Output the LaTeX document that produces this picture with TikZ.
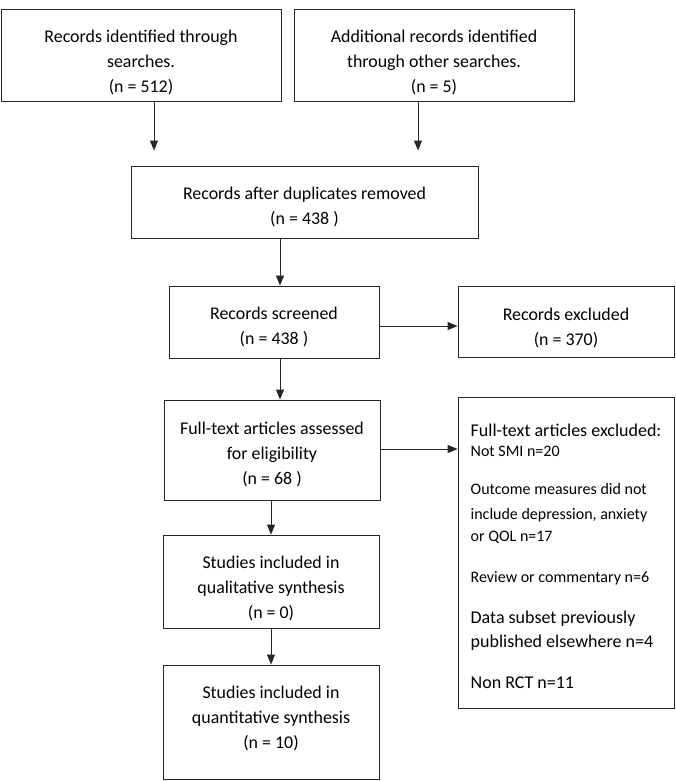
\documentclass[tikz,border=0pt]{standalone}
\usepackage{fontspec}
\setmainfont{Carlito}
\usetikzlibrary{positioning}
\usetikzlibrary{arrows.meta}
\tikzstyle{record} = [rectangle, minimum width=216pt, draw=black!85, line width=0.9pt, text centered, align=center, font=\fontsize{17.9}{25}\selectfont]
\tikzstyle{reasons} = [rectangle, minimum width=216pt, minimum height=311pt, draw=black!85, line width=0.9pt, align=left, font=\fontsize{18}{20}\selectfont]
\tikzstyle{arrow} = [line width=0.9pt, draw=black!85, -{Triangle[length=10pt,width=8pt]}]
\newcommand{\smalltxt}{\fontsize{16}{20}\selectfont}
\newcommand{\bigtxt}{\fontsize{18}{20}\selectfont}
\newcommand{\padtop}[1]{\rule{0pt}{#1}}
\newcommand{\padbot}[1]{\rule[-#1]{0pt}{#1}}

\begin{document}
\begin{tikzpicture}[node distance=120pt, x=1pt, y=-1pt]
        \useasboundingbox (0,0) rectangle (675,781);
        \node (search) [record, minimum width=280pt, minimum height=92pt] at (141,55) {\padtop{27pt}Records identified through\\ searches.\\ (n = 512)};
        \node (other) [record, minimum width=280pt, minimum height=92pt, right of=search, xshift=173pt] {\padtop{27pt}Additional records identified\\ through other searches.\\ (n = 5)};
        \node (dedup) [record, minimum width=347pt, minimum height=72pt, below of=search, xshift=163.5pt, yshift=-27pt] {\padtop{23pt}Records after duplicates removed\\ (n = 438 )};
        \node (screened) [record, minimum width=210pt, minimum height=72pt, below of=dedup, xshift=-30.5pt] {\padtop{23pt}Records screened\\ (n = 438 )};
        \node (excluded) [record, minimum height=71pt, right of=screened, xshift=172pt, yshift=0.5pt] {\padtop{25pt}Records excluded\\ (n = 370)};
        \node (fulltext) [record, minimum height=100pt, below of=screened, xshift=-2pt, yshift=-8pt] {\padtop{21pt}Full-text articles assessed\\ for eligibility\\ (n = 68 )};
        \node (ftexcluded) [reasons, right of=fulltext, xshift=174pt, yshift=-102.5pt] {\bigtxt\padtop{21pt}Full-text articles excluded:\\
            \smalltxt Not SMI n=20\\[18pt]
            \smalltxt Outcome measures did not\\[5pt]
            \smalltxt include depression, anxiety\\[2pt]
            \smalltxt or QOL n=17\\[21pt]
            \smalltxt Review or commentary n=6\\[21pt]
            \bigtxt Data subset previously\\[4pt]
            \bigtxt published elsewhere n=4\\[21pt]
            \bigtxt Non RCT n=11};
        \node (qual) [record, minimum height=93pt, below of=fulltext, xshift=-1pt, yshift=-11.5pt] {\padtop{27pt}Studies included in\\ qualitative synthesis\\ (n = 0)};
        \node (quant) [record, minimum height=114pt, below of=qual, yshift=-20.5pt] {Studies included in\\ quantitative synthesis\\ (n = 10)\padbot{8.5pt}};

        \draw [arrow, shorten >=15pt] ([xshift=13pt]search.south) -- ([xshift=13pt]search.south |- dedup.north);
        \draw [arrow, shorten >=15pt] ([xshift=-16pt]other.south) -- ([xshift=-16pt]other.south |- dedup.north);
        \draw [arrow] ([xshift=6pt]screened.north |- dedup.south) -- ([xshift=6pt]screened.north);
        \draw [arrow] ([yshift=-4pt]screened.east) -- ([yshift=-4pt]screened.east -| excluded.west);
        \draw [arrow] ([xshift=6pt]screened.south) -- ([xshift=6pt]screened.south |- fulltext.north);
        \draw [arrow] ([yshift=1pt]fulltext.east) -- ([yshift=1pt]fulltext.east -| ftexcluded.west);
        \draw [arrow] (qual.north |- fulltext.south) -- (qual.north);
        \draw [arrow] (qual) -- (quant);
    \end{tikzpicture}
\end{document}
